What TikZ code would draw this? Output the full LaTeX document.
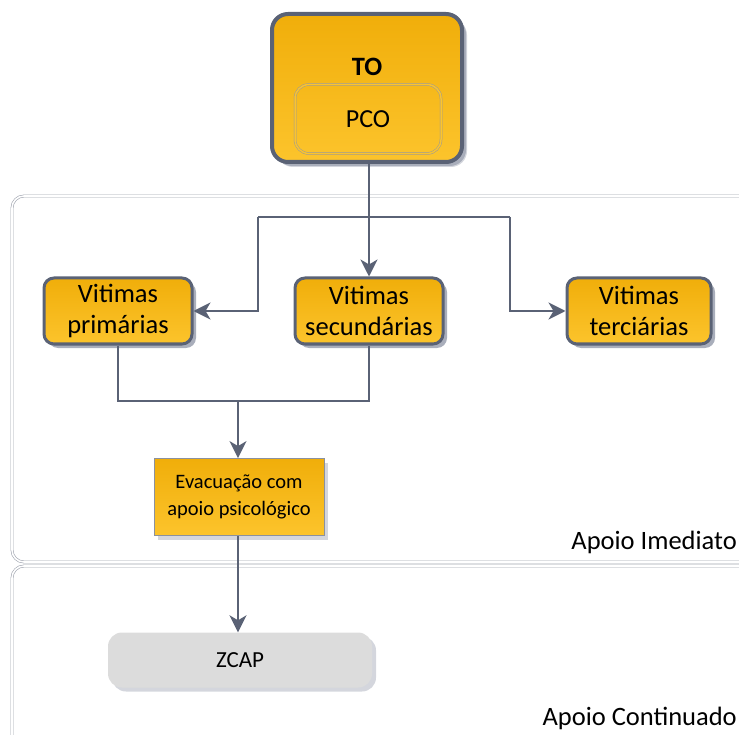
\documentclass[tikz,border=0pt]{standalone}
\usepackage{fontspec}
\setmainfont{Carlito}
\usepackage{xcolor}
\definecolor{ORtop}{HTML}{F0AE0A}
\definecolor{ORbot}{HTML}{FCC42C}
\definecolor{SLline}{HTML}{5A6275}
\definecolor{SLshadow}{HTML}{A9AEBB}
\definecolor{LNgray}{HTML}{9EA3AE}
\definecolor{ZCfill}{HTML}{DCDCDC}
\usepackage{tikz}
\usetikzlibrary{arrows.meta, positioning, shadows, calc}

\begin{document}
\begin{tikzpicture}[
  x=1pt, y=-1pt,
  lane/.style={draw=LNgray, double=white, double distance=1.6pt, line width=0.6pt, rounded corners=12pt},
  lanelabel/.style={font=\fontsize{26.5}{30}\selectfont, anchor=east, inner sep=0pt},
  obox/.style={
    draw=SLline, line width=3pt, rounded corners=10pt,
    top color=ORtop, bottom color=ORbot,
    drop shadow={shadow xshift=4pt, shadow yshift=-4pt, fill=SLshadow, opacity=1},
    minimum width=148pt, minimum height=66pt,
    font=\fontsize{26.5}{31}\selectfont, align=center, inner sep=2pt
  },
  arrow/.style={-{Stealth[length=17pt, width=17pt, inset=5pt]}, line width=2.4pt, color=SLline},
  link/.style={line width=2.4pt, color=SLline},
]
\useasboundingbox (0,0) rectangle (739,735);

% Swimlanes
\draw[lane] (745,196) -- (12,196) -- (12,562) -- (745,562);
\draw[lane] (745,566) -- (12,566) -- (12,745);
\node[lanelabel] (lblimed) at (737,542) {Apoio Imediato};
\node[lanelabel] (lblcont) at (737,718) {Apoio Continuado};

% Top — TO / PCO
\node[obox, line width=4pt, rounded corners=16pt, minimum width=190pt, minimum height=148pt,
  drop shadow={shadow xshift=5pt, shadow yshift=-5pt, fill=SLshadow}] (to) at (367,88) {};
\node[font=\fontsize{26.5}{30}\selectfont\bfseries] (tolbl) at (367,67) {TO};
\node[draw=gray!80, double=ORbot, double distance=1.5pt, line width=0.5pt, rounded corners=14pt,
  minimum width=146pt, minimum height=69pt, font=\fontsize{26}{30}\selectfont] (pco) at (368,119) {PCO};

% Victims
\node[obox] (prim) at (118,311) {Vitimas\\primárias};
\node[obox] (sec) at (369,311) {Vitimas\\secundárias};
\node[obox, minimum width=144pt] (terc) at (639,311) {Vitimas\\terciárias};

% Evacuation
\node[top color=ORtop, bottom color=ORbot, draw=SLline!70, line width=0.8pt,
  drop shadow={shadow xshift=4pt, shadow yshift=-4pt, fill=SLshadow},
  minimum width=170pt, minimum height=77pt, align=center,
  font=\fontsize{20.5}{27}\selectfont] (evac) at (239,497) {Evacuação com\\apoio psicológico};

% ZCAP
\node[fill=ZCfill, rounded corners=14pt, minimum width=264pt, minimum height=55pt,
  drop shadow={shadow xshift=4pt, shadow yshift=-4pt, fill=SLshadow},
  font=\fontsize{23}{26}\selectfont] (zcap) at (240,660) {ZCAP};

% Arrows
\coordinate (brL) at (258,217);
\coordinate (brR) at (510,217);
\coordinate (mg) at (238,401);
\draw[arrow] (to.south -| sec.north) -- (sec.north);
\draw[link] (brL) -- (brR);
\draw[arrow] (brL) |- (prim);
\draw[arrow] (brR) |- (terc);
\draw[link] (prim.south) |- (mg) -| (sec.south);
\draw[arrow] (mg) -- (mg |- evac.north);
\draw[arrow] (evac.south -| mg) -- (mg |- zcap.north);

\end{tikzpicture}
\end{document}
